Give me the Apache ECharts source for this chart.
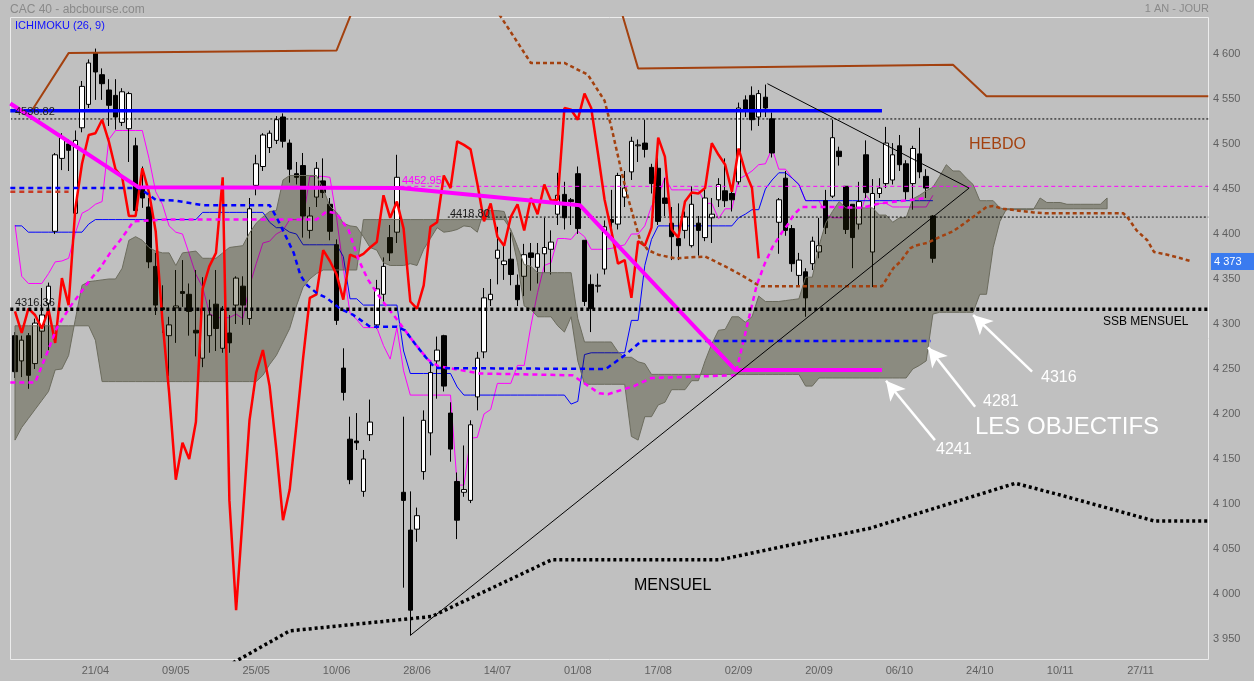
<!DOCTYPE html>
<html><head><meta charset="utf-8">
<script src="https://cdn.jsdelivr.net/npm/echarts@6/dist/echarts.min.js"></script>
<style>html,body{margin:0;padding:0;background:#c0c0c0}#c{width:1254px;height:681px}</style>
</head><body><div id="c"></div>
<script>
// ---------- axis labels ----------
const tickIdx = [12,24,36,48,60,72,84,96,108,120,132,144,156,168];
const tickText = ['21/04','09/05','25/05','10/06','28/06','14/07','01/08','17/08','02/09','20/09','06/10','24/10','10/11','27/11'];
const slotCount = 179;

// ---------- daily candles (CAC 40) ----------
const opens = [4287,4259,4287,4256,4292,4323,4403,4484,4500,4423, 4518,4544,4601,4577,4560,4554,4524,4517,4498,4450,
 4430,4364,4318,4287,4318,4336,4333,4293,4262,4287, 4322,4273,4290,4321,4342,4306,4454,4475,4496,4504,
 4530,4501,4467,4476,4404,4441,4459,4433,4388,4251, 4172,4170,4114,4177,4299,4333,4396,4402,4113,4071,
 4072,4136,4179,4259,4287,4201,4125,4113,4104,4219, 4269,4327,4373,4366,4372,4343,4353,4379,4363,4378,
 4383,4422,4444,4438,4467,4393,4344,4342,4361,4416, 4411,4441,4469,4498,4501,4474,4473,4440,4412,4395,
 4404,4387,4412,4396,4418,4438,4448,4445,4458,4549, 4554,4530,4552,4528,4413,4462,4406,4354,4358,4367,
 4380,4437,4442,4492,4453,4433,4411,4488,4380,4445, 4456,4460,4498,4478,4456,4489,4464,4420];
const closes = [4247,4282,4243,4301,4310,4342,4488,4507,4493,4504, 4564,4590,4580,4567,4543,4530,4558,4556,4426,4440,
 4369,4321,4316,4299,4320,4334,4314,4290,4317,4310, 4295,4316,4279,4351,4321,4428,4478,4510,4512,4527,
 4503,4472,4463,4420,4420,4473,4446,4403,4304,4224, 4127,4168,4150,4191,4339,4364,4379,4463,4104,3982,
 4087,4193,4246,4271,4231,4161,4082,4116,4188,4262, 4329,4333,4382,4370,4355,4327,4377,4374,4378,4385,
 4391,4443,4418,4436,4406,4325,4317,4343,4408,4413, 4465,4451,4503,4499,4494,4456,4414,4434,4397,4387,
 4419,4433,4404,4440,4422,4455,4437,4438,4540,4538, 4527,4556,4540,4490,4438,4404,4367,4371,4329,4392,
 4387,4407,4507,4486,4405,4396,4436,4446,4445,4451, 4501,4488,4477,4447,4495,4469,4451,4373];
const lows = [4240,4241,4228,4250,4262,4271,4400,4471,4470,4423, 4513,4540,4549,4549,4520,4516,4520,4480,4424,4429,
 4362,4310,4290,4242,4279,4319,4287,4264,4252,4268, 4270,4268,4268,4300,4299,4299,4443,4470,4490,4500,
 4496,4457,4455,4396,4395,4430,4440,4393,4299,4215, 4122,4160,4108,4170,4295,4325,4370,4390,4007,3954,
 4058,4127,4154,4217,4225,4147,4061,4108,4101,4204, 4262,4320,4344,4349,4343,4320,4331,4337,4345,4357,
 4355,4410,4405,4410,4400,4320,4291,4335,4355,4398, 4405,4430,4460,4480,4485,4445,4410,4420,4371,4371,
 4395,4385,4376,4392,4390,4430,4430,4425,4455,4530, 4515,4520,4530,4485,4378,4398,4358,4343,4308,4360,
 4373,4400,4440,4476,4400,4362,4405,4440,4341,4440, 4451,4455,4470,4438,4427,4462,4440,4368];
const highs = [4291,4287,4290,4306,4340,4346,4490,4512,4505,4515, 4570,4594,4606,4584,4572,4572,4562,4558,4507,4475,
 4440,4379,4343,4308,4360,4371,4345,4360,4352,4327, 4360,4320,4310,4353,4353,4440,4488,4512,4515,4531,
 4534,4505,4480,4490,4430,4480,4484,4440,4394,4273, 4197,4201,4160,4216,4349,4374,4410,4488,4197,4114,
 4096,4204,4257,4286,4288,4213,4135,4165,4193,4269, 4340,4350,4408,4389,4402,4355,4389,4390,4390,4418,
 4404,4468,4458,4440,4475,4393,4355,4356,4415,4449, 4468,4470,4508,4505,4527,4478,4497,4462,4430,4434,
 4425,4453,4420,4452,4440,4462,4484,4450,4546,4554, 4564,4560,4566,4535,4440,4470,4410,4379,4362,4397,
 4418,4449,4527,4497,4453,4433,4458,4504,4461,4462, 4519,4501,4510,4482,4498,4518,4472,4421];

// ---------- Ichimoku (26, 9) ----------
const tenkan = [4410,4353,4345,4345,4345,4356,4369,4370,4373,4401, 4423,4427,4433,4436,4505,4515,4515,4515,4515,4515,
 4484,4447,4433,4409,4402,4400,4378,4355,4341,4312, 4307,4307,4307,4311,4306,4342,4367,4390,4392,4400,
 4404,4416,4416,4416,4464,4464,4464,4463,4418,4362, 4312,4305,4296,4296,4296,4276,4261,4296,4248,4221,
 4221,4221,4221,4221,4221,4221,4121,4121,4173,4174, 4200,4205,4234,4234,4234,4254,4254,4298,4335,4365,
 4368,4395,4395,4394,4403,4397,4383,4383,4383,4384, 4386,4388,4400,4400,4409,4431,4441,4463,4449,4449,
 4449,4449,4449,4434,4434,4417,4428,4428,4461,4465, 4470,4477,4478,4495,4472,4472,4462,4455,4437,4437,
 4437,4422,4418,4418,4418,4418,4418,4443,4434,4434, 4434,4430,4430,4430,4430,4430,4430,4443];
const kijun = [4409,4409,4402,4402,4402,4402,4402,4402,4402,4402, 4402,4411,4416,4416,4416,4416,4416,4416,4416,4416,
 4416,4416,4416,4416,4416,4416,4416,4416,4424,4424, 4424,4424,4424,4424,4424,4424,4424,4424,4413,4407,
 4407,4402,4400,4388,4388,4388,4388,4388,4388,4375, 4328,4328,4321,4321,4321,4321,4321,4321,4270,4245,
 4245,4245,4245,4245,4245,4245,4230,4221,4221,4221, 4221,4221,4221,4221,4221,4221,4221,4221,4221,4221,
 4221,4221,4221,4211,4214,4266,4268,4268,4268,4268, 4268,4268,4304,4304,4365,4394,4409,4409,4409,4409,
 4409,4409,4409,4409,4409,4409,4409,4409,4418,4422, 4427,4427,4450,4460,4468,4468,4462,4455,4437,4437,
 4437,4437,4437,4437,4437,4437,4437,4437,4437,4437, 4437,4437,4437,4437,4437,4437,4437,4437];
const spanA = [4171,4185,4195,4205,4215,4225,4249,4250,4265,4305, 4343,4347,4348,4349,4350,4350,4362,4393,4397,4393,
 4385,4381,4379,4379,4365,4379,4380,4381,4373,4373, 4373,4379,4385,4386,4387,4401,4412,4419,4425,4426,
 4460,4465,4465,4465,4465,4465,4450,4431,4424,4412, 4409,4408,4397,4385,4382,4368,4365,4365,4365,4367,
 4365,4383,4395,4407,4402,4403,4405,4409,4408,4402, 4426,4426,4426,4425,4403,4368,4320,4316,4308,4308,
 4308,4298,4291,4308,4259,4233,4233,4233,4233,4233, 4233,4233,4175,4171,4197,4197,4210,4213,4227,4227,
 4227,4237,4237,4259,4278,4293,4294,4308,4308,4302, 4308,4331,4325,4325,4325,4326,4327,4328,4352,4352,
 4387,4412,4425,4436,4429,4429,4429,4429,4429,4421, 4421,4413,4418,4418,4439,4443,4448,4452,4464,4477,
 4470,4470,4462,4455,4437,4437,4437,4429,4427,4427, 4427,4427,4427,4440,4435,4435,4435,4433,4433,4433,
 4433,4433,4433,4440];
const spanB = [4298,4298,4298,4298,4298,4298,4298,4298,4298,4298, 4298,4298,4282,4236,4236,4236,4236,4236,4236,4236,
 4236,4236,4236,4236,4236,4236,4236,4236,4236,4236, 4236,4236,4236,4236,4236,4236,4236,4243,4255,4265,
 4280,4295,4320,4341,4350,4356,4360,4360,4360,4360, 4360,4360,4416,4416,4416,4416,4416,4416,4416,4416,
 4416,4416,4416,4416,4416,4416,4416,4416,4416,4416, 4416,4416,4416,4416,4405,4386,4366,4364,4357,4357,
 4357,4357,4357,4357,4306,4280,4280,4280,4280,4280, 4269,4263,4263,4258,4256,4244,4244,4244,4244,4244,
 4244,4244,4244,4244,4244,4244,4244,4244,4244,4244, 4244,4244,4244,4244,4244,4244,4244,4244,4231,4231,
 4240,4240,4240,4240,4240,4240,4240,4240,4240,4240, 4240,4240,4240,4240,4250,4254,4259,4311,4313,4313,
 4313,4313,4313,4313,4333,4333,4385,4414,4428,4428, 4428,4428,4428,4428,4428,4428,4428,4428,4428,4428,
 4428,4428,4428,4428];
const chikouShift = 26;

// ---------- drawn lines (x = day slot, y = index level) ----------
const weeklyBlueDash = [[-0.7,4451],[18.5,4451],[19.5,4446],[21,4438],[24,4437],[28,4432],[38,4432],[39,4419],[40,4404],
 [41.6,4379],[42.6,4354],[43.6,4343],[45.1,4334],[46.5,4329],[48.5,4317],[50.5,4310],[53,4297],[57,4297],[58.2,4293],
 [59.7,4278],[61.2,4264],[62.7,4251],[88.2,4250],[91.3,4267],[93.5,4281],[136.7,4281]];
const weeklyPinkDash = [[-0.7,4235],[3,4235],[4.7,4266],[6.2,4295],[8.2,4319],[9.7,4334],[11.2,4349],[12.7,4362],
 [14.2,4379],[15.7,4393],[17.7,4414],[22.4,4416],[45,4416],[46.5,4425],[48,4423],[49.8,4404],[51.3,4371],[52.7,4349],
 [54.7,4327],[56.7,4308],[58.2,4293],[59.7,4278],[61.7,4260],[63.2,4253],[69.4,4245],[83.2,4243],[84.2,4238],
 [87.2,4223],[88.5,4222],[92.4,4231],[95,4240],[107.5,4243],[110.7,4343],[111.9,4367],[113.1,4386],[114.4,4401],
 [115.4,4411],[116.2,4421],[117.4,4430],[122.2,4430],[126.4,4429],[129.1,4434],[136.1,4440]];
const hebdoDash = [[70,4670],[77,4590],[82,4590],[85.5,4577],[88,4548],[89.1,4516],[90.5,4470],[91.5,4440],[93.3,4393],
 [94.5,4382],[96,4377],[98.5,4373],[103,4375],[106,4364],[108.5,4354],[110.5,4345],[111.4,4342],[129.4,4342],
 [131.1,4362],[132.1,4369],[133.6,4384],[134.3,4387],[136.1,4390],[138.1,4397],[140,4403],[141,4408],[143,4419],
 [145,4430],[146,4431],[147.5,4428],[152,4424],[154,4423],[165.4,4423],[166,4419],[167.4,4404],[169,4393],
 [170,4380],[172,4377],[174,4373],[175.4,4370]];
const hebdoLeftDash = [[-0.7,4447],[8,4447]];
const brownSolid = [[2.5,4537],[8,4601],[48,4604],[51,4660],[90,4660],[93,4584],[140,4588],[145,4553],[178.1,4553]];
const trendPink = [[-0.7,4545],[18.4,4452],[57.5,4451],[84.3,4432],[107.5,4249],[129.4,4249]];
const mensuel = [[31,3917],[41,3959],[62.2,3975],[80.1,4038],[105.2,4038],[127.6,4073],[149.3,4123],[156,4110],[170.1,4081],[178.1,4081]];
const triangle = [[59,3954],[142.4,4451],[112.3,4567]];
const levelBlue = 4536.82, levelDot = 4527.8, levelPink = 4452.95, levelBlack = 4418.80, levelSSB = 4316.36;
const lastClose = 4373;
const targets = [4316, 4281, 4241];
const arrows = [[[151.8,4247],[143,4310]],[[143.3,4208],[136.3,4274]],[[137.3,4171],[130,4237]]];

// ---------- chart ----------
const FONT = '"Liberation Sans", Arial, sans-serif';
const cats = Array.from({length: slotCount}, (_, i) => String(i));
const tickMap = {}; tickIdx.forEach((k, j) => tickMap[k] = tickText[j]);
const xy = arr => arr.map((v, i) => [i, v]);
function ln(data, color, width, type, z, extra) {
  return Object.assign({type:'line', xAxisIndex:1, yAxisIndex:0, data, symbol:'none', showSymbol:false,
    silent:true, animation:false, clip:true, z: z == null ? 5 : z,
    lineStyle:{color, width, type: type || 'solid', cap:'butt'}}, extra || {});
}
const R = 178.1, L = -0.7;
const fmt = v => Math.floor(v/1000) + ' ' + String(Math.round(v) % 1000).padStart(3,'0');

const chart = echarts.init(document.getElementById('c'), null, {renderer:'canvas'});
const option = {
  backgroundColor:'#c0c0c0',
  animation:false,
  grid:{left:11.65, top:17, width:1199.3, height:642.5, show:false},
  xAxis:[
    {type:'category', data:cats, boundaryGap:true, axisLine:{show:false}, axisTick:{show:false}, splitLine:{show:false},
     axisLabel:{interval:0, margin:6, color:'#606060', fontSize:11, fontFamily:FONT, formatter:(v, i) => tickMap[i] || ''}},
    {type:'value', min:-0.5, max:slotCount - 0.5, show:false, gridIndex:0}
  ],
  yAxis:[{type:'value', position:'right', min:3927.2, max:4641.1, splitNumber:14, scale:true,
    axisLine:{show:false}, axisTick:{show:false}, splitLine:{show:false},
    axisLabel:{margin:2, color:'#606060', fontSize:11, fontFamily:FONT, showMinLabel:false, showMaxLabel:false,
      formatter:v => (Math.abs(v % 50) < 0.01 ? fmt(v) : '')}}],
  series:[
    {type:'candlestick', xAxisIndex:0, yAxisIndex:0, z:2, barWidth:5, silent:true, animation:false,
     data: opens.map((o, i) => [o, closes[i], lows[i], highs[i]]),
     itemStyle:{color:'#ffffff', color0:'#000000', borderColor:'#000000', borderColor0:'#000000', borderWidth:1}},
    ln(xy(tenkan), '#ff00ff', 1, 'solid', 2),
    ln(xy(kijun), '#0000ff', 1, 'solid', 2),
    {type:'custom', xAxisIndex:1, yAxisIndex:0, z:3, silent:true, animation:false, clip:true,
     data:[[0, 4400]], encode:{x:0, y:1},
     renderItem:(params, api) => {
       const pts = [];
       for (let i = 0; i < spanA.length; i++) pts.push(api.coord([i, spanA[i]]));
       for (let i = spanB.length - 1; i >= 0; i--) pts.push(api.coord([i, spanB[i]]));
       return {type:'polygon', shape:{points:pts}, style:{fill:'rgba(40,40,10,0.35)', stroke:'#6c6c5e', lineWidth:1}};
     }},
    ln([[L,levelDot],[R,levelDot]], '#000000', 1, [2,2], 4),
    ln([[57.5,levelPink],[R,levelPink]], '#ff00ff', 1, [4,3], 4),
    ln([[64.6,levelBlack],[R,levelBlack]], '#000000', 1, [2,2], 4),
    ln(closes.slice(chikouShift).map((v, i) => [i, v]), '#ff0000', 2.5, 'solid', 5),
    ln(brownSolid, '#a3410f', 2, 'solid', 5),
    ln(hebdoDash, '#a3410f', 2.5, [4,3], 5),
    ln(hebdoLeftDash, '#c83a25', 2.5, [5,4], 5),
    ln(weeklyPinkDash, '#ff00ff', 2.5, [5,4], 5),
    ln(weeklyBlueDash, '#0000ff', 2.5, [5,4], 5),
    ln([[L,levelBlue],[129.4,levelBlue]], '#0000ff', 3.5, 'solid', 6),
    ln(trendPink, '#ff00ff', 4, 'solid', 6),
    ln([[L,levelSSB],[R,levelSSB]], '#000000', 3.5, [3,3], 6),
    ln(mensuel, '#000000', 3.5, [3,3], 6),
    ln(triangle, '#000000', 1, 'solid', 6, {
      markLine:{silent:true, animation:false, symbol:['none','arrow'], symbolSize:[15,19], label:{show:false},
        lineStyle:{color:'#ffffff', width:2.5, type:'solid'}, emphasis:{disabled:true},
        data: arrows.map(a => [{coord:a[0]}, {coord:a[1]}])}
    })
  ],
  graphic:{elements:[]}
};

function T(text, x, y, size, color, align) {
  return {type:'text', x, y, z:100, silent:true,
    style:{text, fill:color, font: size + 'px ' + FONT, textAlign: align || 'left', align: align || 'left',
      textVerticalAlign:'middle', verticalAlign:'middle'}};
}
option.graphic.elements = [
  {type:'rect', z:1, silent:true, shape:{x:10.5, y:17.5, width:1198, height:642}, style:{fill:null, stroke:'#ececec', lineWidth:1}},
  T('CAC 40 - abcbourse.com', 10, 9.5, 12, '#8a8a8a'),
  T('1 AN - JOUR', 1209, 9, 11, '#8a8a8a', 'right'),
  T('ICHIMOKU (26, 9)', 15, 26, 11, '#1010ff'),
  T(levelBlue.toFixed(2), 15, 112, 11, '#1a1a1a'),
  T(levelSSB.toFixed(2), 15, 303, 11, '#1a1a1a'),
  T(levelPink.toFixed(2), 402, 181, 11, '#ff00ff'),
  T(levelBlack.toFixed(2), 450, 213.5, 11, '#1a1a1a'),
  T('HEBDO', 969, 145, 16, '#a3410f'),
  T('MENSUEL', 634, 586, 16, '#000000'),
  T('SSB MENSUEL', 1103, 322, 12, '#000000'),
  T('LES OBJECTIFS', 975, 427, 24, '#ffffff'),
  T(String(targets[0]), 1041, 377.5, 16, '#ffffff'),
  T(String(targets[1]), 983, 402, 16, '#ffffff'),
  T(String(targets[2]), 936, 450, 16, '#ffffff'),
  {type:'rect', z:100, silent:true, shape:{x:1211, y:253, width:43, height:17}, style:{fill:'#3a7bef'}},
  T(fmt(lastClose), 1214, 261.5, 11, '#ffffff')
];
chart.setOption(option);
</script>
</body></html>
